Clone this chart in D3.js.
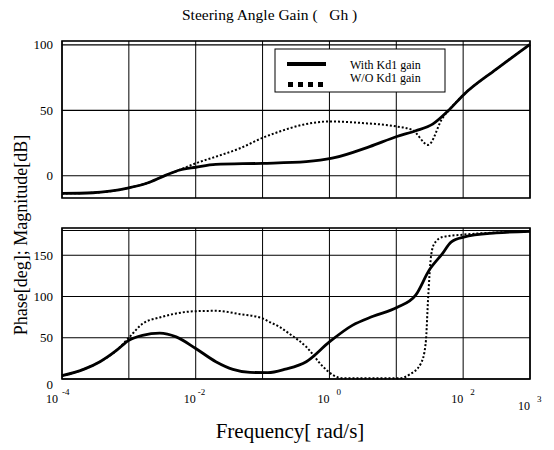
<!DOCTYPE html>
<html>
<head>
<meta charset="utf-8">
<script src="https://cdn.jsdelivr.net/npm/d3@7"></script>
<style>
html,body{margin:0;padding:0;background:#fff;}
svg{display:block;}
text{font-family:"Liberation Serif","Times New Roman",serif;fill:#000;white-space:pre;}
</style>
</head>
<body>
<div id="chart"></div>
<script>
// ---------- data ----------
const title = "Steering Angle Gain (   Gh )";
const xLabel = "Frequency[ rad/s]";
const yLabel = "Phase[deg]; Magnitude[dB]";
const seriesNames = ["With Kd1 gain", "W/O Kd1 gain"];

const xGrid = [1e-4, 1e-3, 1e-2, 1e-1, 1e0, 1e1, 1e2, 1e3];
const xTickBase = ["10", "10", "10", "10", "10"];
const xTickExp = ["-4", "-2", "0", "2", "3"];
const xTickVals = [1e-4, 1e-2, 1e0, 1e2, 1e3];

const magTicks = [0, 50, 100];
const phaseTicks = [0, 50, 100, 150];
const phaseExtraGrid = [180];

// Magnitude, with Kd1 gain (solid)
const magWithF = [1e-4, 2.9e-4, 5.2e-4, 1e-3, 1.8e-3, 3.6e-3, 5.8e-3, 1e-2, 2e-2, 1e-1, 0.45, 1.1, 4, 10.2, 19.5, 35, 62, 102, 310, 1000];
const magWith  = [-13.5, -13, -11.8, -9.2, -5.9, 0.5, 4.4, 6.5, 8.7, 9.5, 10.8, 13.4, 22.3, 30, 34.4, 39.5, 50.5, 62, 81.3, 100.5];

// Magnitude, without Kd1 gain (dotted)
const magWoF = [1e-4, 2.9e-4, 5.2e-4, 1e-3, 1.8e-3, 3.6e-3, 5.8e-3, 1e-2, 2e-2, 4.6e-2, 1e-1, 0.18, 0.4, 1, 3.1, 10, 17.4, 30, 49, 62, 102, 310, 1000];
const magWo  = [-13.5, -13, -11.8, -9.2, -5.9, 0.5, 4.6, 9.5, 14.6, 21, 29, 33.8, 39, 41.5, 40.3, 37.7, 35, 23.6, 44, 50.5, 62, 81.3, 100.5];

// Phase, with Kd1 gain (solid)
const phWithF = [1e-4, 2.1e-4, 3.7e-4, 6.6e-4, 1e-3, 1.6e-3, 2.9e-3, 5.1e-3, 1e-2, 2e-2, 3.6e-2, 6.5e-2, 0.12, 0.22, 0.45, 1, 2.2, 4.5, 10.2, 19.5, 31, 49, 66, 102, 310, 1000];
const phWith  = [4, 11.7, 21, 35, 47, 53, 55.5, 51, 37, 21, 11.7, 8, 7.7, 12, 21, 45, 65, 76, 86.7, 101.6, 131.8, 152, 166, 172, 177, 179];

// Phase, without Kd1 gain (dotted)
const phWoF = [1e-4, 2.1e-4, 3.7e-4, 6.6e-4, 1e-3, 1.6e-3, 2.9e-3, 5.1e-3, 1e-2, 2e-2, 4.6e-2, 0.1, 0.126, 0.18, 0.25, 0.45, 0.8, 1.12, 1.6, 11, 15.5, 23.4, 27.5, 30.2, 33, 37, 49, 102, 310, 1000];
const phWo  = [4, 11.7, 21, 35, 50, 67, 74.6, 79.4, 82.2, 82.6, 78.6, 73.4, 69.3, 63, 55, 39, 15, 5, 0.8, 0.8, 5, 19, 43, 103.6, 148, 164, 172, 175, 177.5, 179];

// ---------- drawing ----------
const W = 554, H = 450;
const svg = d3.select("#chart").append("svg").attr("width", W).attr("height", H);

const x = d3.scaleLog().domain([1e-4, 1e3]).range([62, 530]);
const yMag = d3.scaleLinear().domain([-17, 103]).range([198, 41]);
const yPh = d3.scaleLinear().domain([0, 183]).range([379, 228]);

function panel(y, ticks, extra, zeroShift) {
  const g = svg.append("g");
  const [y0, y1] = y.range();
  g.selectAll("line.vg").data(xGrid).join("line")
    .attr("x1", d => x(d)).attr("x2", d => x(d))
    .attr("y1", y1).attr("y2", y0)
    .attr("stroke", "#000").attr("stroke-width", 1);
  g.selectAll("line.hg").data(ticks.concat(extra)).join("line")
    .attr("x1", x.range()[0]).attr("x2", x.range()[1])
    .attr("y1", d => y(d)).attr("y2", d => y(d))
    .attr("stroke", "#000").attr("stroke-width", 1.2);
  g.append("rect")
    .attr("x", x.range()[0]).attr("y", y1)
    .attr("width", x.range()[1] - x.range()[0]).attr("height", y0 - y1)
    .attr("fill", "none").attr("stroke", "#000").attr("stroke-width", 1.6);
  g.selectAll("text.yt").data(ticks).join("text")
    .attr("x", 53).attr("y", d => y(d) + 4.5 + (d === 0 ? zeroShift : 0))
    .attr("text-anchor", "end").attr("font-size", 13)
    .text(d => d);
  return g;
}

const gMag = panel(yMag, magTicks, [], 0);
const gPh = panel(yPh, phaseTicks, phaseExtraGrid, 5);

function curve(g, y, fs, vs, dashed) {
  const pts = fs.map((f, i) => [f, vs[i]]);
  const line = d3.line().x(d => x(d[0])).y(d => y(d[1])).curve(d3.curveMonotoneX);
  g.append("path").attr("d", line(pts))
    .attr("fill", "none").attr("stroke", "#000")
    .attr("stroke-width", dashed ? 2 : 2.8)
    .attr("stroke-dasharray", dashed ? "2,2" : null)
    .attr("stroke-linejoin", "round");
}

curve(gMag, yMag, magWoF, magWo, true);
curve(gMag, yMag, magWithF, magWith, false);
curve(gPh, yPh, phWoF, phWo, true);
curve(gPh, yPh, phWithF, phWith, false);

// legend
const lg = svg.append("g");
lg.append("rect").attr("x", 275).attr("y", 49).attr("width", 170).attr("height", 43)
  .attr("fill", "#fff").attr("stroke", "#000").attr("stroke-width", 1);
lg.append("line").attr("x1", 287).attr("x2", 326).attr("y1", 64).attr("y2", 64)
  .attr("stroke", "#000").attr("stroke-width", 4);
lg.append("line").attr("x1", 288).attr("x2", 326).attr("y1", 84.5).attr("y2", 84.5)
  .attr("stroke", "#000").attr("stroke-width", 5).attr("stroke-dasharray", "5,5");
lg.selectAll("text").data(seriesNames).join("text")
  .attr("x", 350).attr("y", (d, i) => 69 + i * 13)
  .attr("font-size", 12).text(d => d);

// x tick labels
const xt = svg.append("g");
xTickVals.forEach((v, i) => {
  const last = i === xTickVals.length - 1;
  const first = i === 0;
  const bx = x(v) - (first ? 4 : 0);
  const by = last ? 410 : 403;
  xt.append("text").attr("x", bx).attr("y", by).attr("text-anchor", "end")
    .attr("font-size", 12).text(xTickBase[i]);
  const sx = first ? x(v) : (xTickExp[i].length > 1 ? x(v) + 2 : x(v) + 7);
  xt.append("text").attr("x", sx).attr("y", by - 8)
    .attr("font-size", 9).text(xTickExp[i]);
});

// title & axis labels
svg.append("text").attr("x", 182).attr("y", 20).attr("text-anchor", "start")
  .attr("font-size", 15.5).text(title);
svg.append("text").attr("x", 290).attr("y", 438).attr("text-anchor", "middle")
  .attr("font-size", 21).text(xLabel);
svg.append("text").attr("transform", "translate(27,235) rotate(-90)")
  .attr("text-anchor", "middle").attr("font-size", 18).text(yLabel);
</script>
</body>
</html>
